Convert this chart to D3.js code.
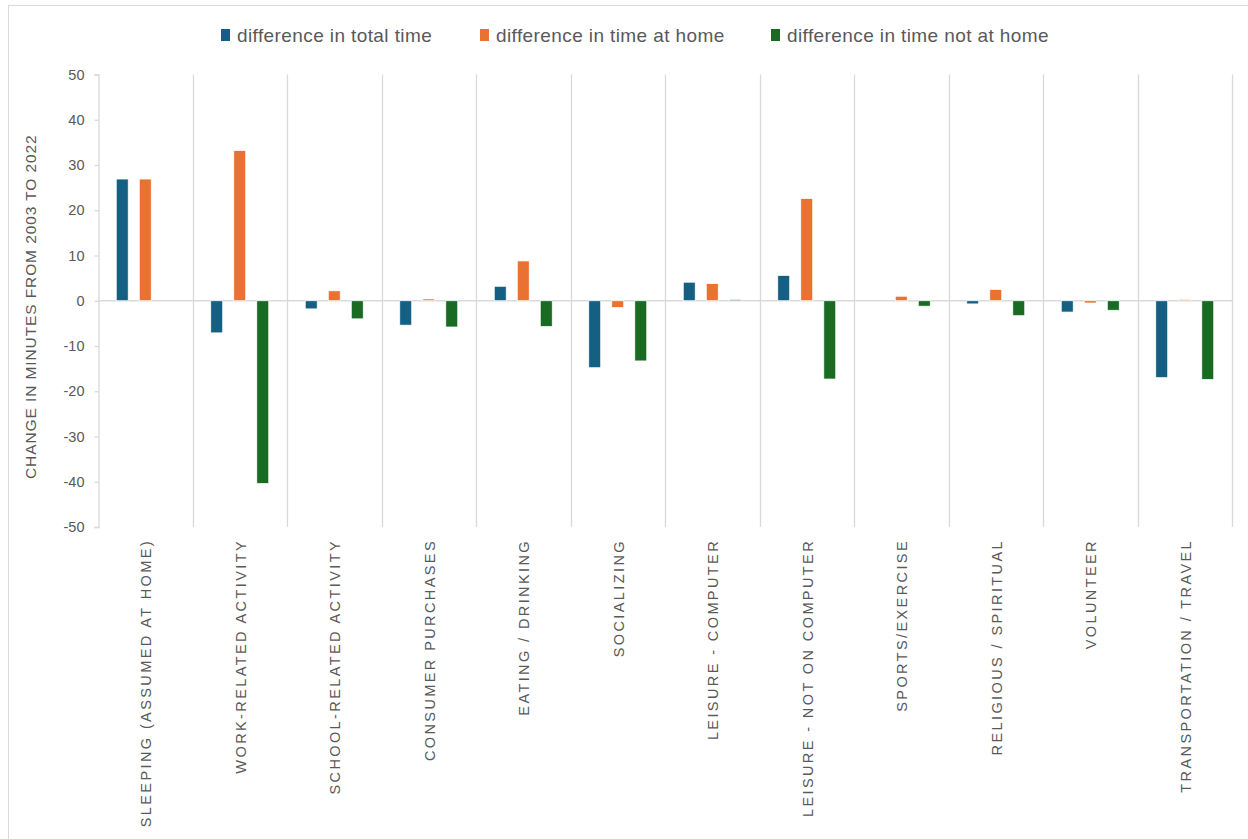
<!DOCTYPE html>
<html>
<head>
<meta charset="utf-8">
<script src="https://cdn.jsdelivr.net/npm/d3@7"></script>
<style>
  body { margin: 0; background: #fff; }
  text { font-family: "Liberation Sans", Arial, sans-serif; fill: #595959; }
</style>
</head>
<body>
<div id="chart_div"></div>
<script>
// data
var categories = ['SLEEPING (ASSUMED AT HOME)', 'WORK-RELATED ACTIVITY', 'SCHOOL-RELATED ACTIVITY',
  'CONSUMER PURCHASES', 'EATING / DRINKING', 'SOCIALIZING', 'LEISURE - COMPUTER',
  'LEISURE - NOT ON COMPUTER', 'SPORTS/EXERCISE', 'RELIGIOUS / SPIRITUAL', 'VOLUNTEER',
  'TRANSPORTATION / TRAVEL'];
var seriesNames = ['difference in total time', 'difference in time at home', 'difference in time not at home'];
var totalTime   = [26.9, -7.1, -1.8, -5.4, 3.2, -14.8, 4.1, 5.6, 0, -0.7, -2.5, -17.0];
var timeAtHome  = [26.9, 33.2, 2.2, 0.4, 8.8, -1.5, 3.8, 22.6, 1.0, 2.5, -0.5, 0.3];
var timeNotHome = [0, -40.4, -4.0, -5.8, -5.7, -13.3, 0.3, -17.3, -1.2, -3.3, -2.1, -17.4];
var yTicks = [50, 40, 30, 20, 10, 0, -10, -20, -30, -40, -50];
var colors = ['#156082', '#E97132', '#196B24'];

var allSeries = [totalTime, timeAtHome, timeNotHome];

const W = 1248, H = 839;
const plot = {left: 98, right: 1232, top: 74.5, bottom: 527};

var svg = d3.select('#chart_div').append('svg')
    .attr('width', W)
    .attr('height', H);

// outer chart border
svg.append('rect')
  .attr('x', 8.5).attr('y', 5.5)
  .attr('width', W + 10).attr('height', H + 10)
  .attr('fill', 'none')
  .attr('stroke', '#d9d9d9');

var xScale = d3.scaleBand()
    .domain(categories)
    .range([plot.left, plot.right]);

var yScale = d3.scaleLinear()
    .domain([-50, 50])
    .range([plot.bottom, plot.top]);

var inner = d3.scaleBand()
    .domain(d3.range(seriesNames.length))
    .range([0, 58])
    .paddingInner(0.48);
const groupOffset = (xScale.bandwidth() - 58) / 2;

// vertical gridlines at category boundaries
svg.append('g')
  .selectAll('line')
  .data(categories)
  .enter()
  .append('line')
  .attr('x1', function (d) { return Math.round(xScale(d) + xScale.bandwidth()) + 0.5; })
  .attr('x2', function (d) { return Math.round(xScale(d) + xScale.bandwidth()) + 0.5; })
  .attr('y1', plot.top)
  .attr('y2', plot.bottom)
  .attr('stroke', '#d9d9d9')
  .attr('stroke-width', 1.3);

// y axis
var yAxis = svg.append('g')
    .attr('transform', `translate(${plot.left + 0.5},0)`)
    .call(d3.axisLeft(yScale).tickValues(yTicks).tickSize(4).tickPadding(10)
      .tickFormat(function (d) { return String(d); }));
yAxis.select('.domain').attr('stroke', '#d9d9d9').attr('stroke-width', 1.3);
yAxis.selectAll('.tick line').attr('stroke', '#d9d9d9').attr('stroke-width', 1.3);
yAxis.selectAll('.tick text')
  .style('font-size', '14.5px')
  .style('fill', '#595959');

// zero line
svg.append('line')
  .attr('x1', plot.left)
  .attr('x2', plot.right)
  .attr('y1', yScale(0))
  .attr('y2', yScale(0))
  .attr('stroke', '#d9d9d9')
  .attr('stroke-width', 1.5);

// bars
allSeries.forEach(function (values, s) {
  var pts = values.map(function (v, i) { return {cat: categories[i], value: v}; })
    .filter(function (d) { return d.value !== 0; });
  svg.append('g')
    .selectAll('rect')
    .data(pts)
    .enter()
    .append('rect')
    .attr('x', function (d) { return xScale(d.cat) + groupOffset + inner(s); })
    .attr('width', inner.bandwidth())
    .attr('y', function (d) { return yScale(Math.max(0, d.value)); })
    .attr('height', function (d) { return Math.abs(yScale(d.value) - yScale(0)); })
    .attr('fill', colors[s])
    .attr('stroke', '#ffffff')
    .attr('stroke-width', 0.75);
});

// category labels, rotated
svg.append('g')
  .selectAll('text')
  .data(categories)
  .enter()
  .append('text')
  .attr('transform', function (d) {
    return `translate(${xScale(d) + xScale.bandwidth() / 2 + 6},${plot.bottom + 12}) rotate(-90)`;
  })
  .attr('text-anchor', 'end')
  .style('font-size', '14.5px')
  .style('letter-spacing', '2.4px')
  .text(function (d) { return d; });

// y axis title
svg.append('text')
  .attr('transform', `translate(36,${(plot.top + plot.bottom) / 2 + 6}) rotate(-90)`)
  .attr('text-anchor', 'middle')
  .style('font-size', '15.5px')
  .style('letter-spacing', '0.9px')
  .text('CHANGE IN MINUTES FROM 2003 TO 2022');

// legend
var legendX = [221, 480, 771];
var legend = svg.append('g')
  .selectAll('g')
  .data(seriesNames)
  .enter()
  .append('g')
  .attr('transform', function (d, i) { return `translate(${legendX[i]},35)`; });

legend.append('rect')
  .attr('x', 0).attr('y', -6)
  .attr('width', 9).attr('height', 12)
  .attr('fill', function (d, i) { return colors[i]; });

legend.append('text')
  .attr('x', 16)
  .attr('y', 6.5)
  .style('font-size', '19px')
  .style('letter-spacing', '0.4px')
  .text(function (d) { return d; });
</script>
</body>
</html>
